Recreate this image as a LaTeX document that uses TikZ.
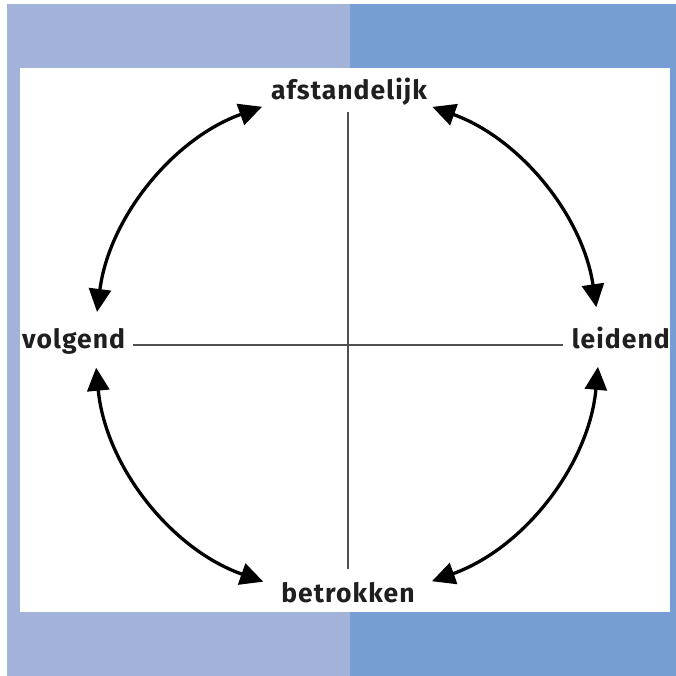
\documentclass[tikz,border=0pt]{standalone}
\usepackage{fontspec}
\setmainfont{Fira Sans}
\usetikzlibrary{arrows.meta}
\definecolor{bgleft}{HTML}{A2B2D9}
\definecolor{bgright}{HTML}{769ED2}
\definecolor{axisgray}{HTML}{505050}
\tikzset{
  label/.style={font=\bfseries\addfontfeature{LetterSpace=4}\fontsize{26.5}{30}\selectfont, inner sep=0pt, text=black!88},
  axis/.style={draw=axisgray, line width=2.4pt},
  arr/.style={draw=black, line width=3.3pt, {Triangle[length=23pt,width=22pt]}-{Triangle[length=23pt,width=22pt]}}
}
\begin{document}
\begin{tikzpicture}[x=1pt,y=1pt]
\useasboundingbox (0,0) rectangle (676,676);
\fill[white] (0,0) rectangle (676,676);
\fill[bgleft] (7,0) rectangle (350,672);
\fill[bgright] (350,0) rectangle (676,672);
\fill[white] (20,64) rectangle (670,608);
% labels
\node[label, anchor=base] (top) at (349,576) {afstandelijk};
\node[label, anchor=base] (bottom) at (348,73) {betrokken};
\node[label, anchor=base west] (left) at (22,327) {volgend};
\node[label, anchor=base east] (right) at (670,327) {leidend};
% axes
\coordinate (vt) at (348,564);
\coordinate (vb) at (348,107);
\coordinate (hl) at (133,331);
\coordinate (hr) at (563,331);
\draw[axis] (vt) -- (vb);
\draw[axis] (hl) -- (hr);
% circle arcs
\coordinate (C) at (347,332);
\def\R{252}
\draw[arr] ([shift={(109.7:\R)}]C) arc[start angle=109.7, end angle=172.7, radius=\R];
\draw[arr] ([shift={(70.2:\R)}]C) arc[start angle=70.2, end angle=8.4, radius=\R];
\draw[arr] ([shift={(185.4:\R)}]C) arc[start angle=185.4, end angle=250.6, radius=\R];
\draw[arr] ([shift={(-5.2:\R)}]C) arc[start angle=-5.2, end angle=-70.3, radius=\R];
\end{tikzpicture}
\end{document}
